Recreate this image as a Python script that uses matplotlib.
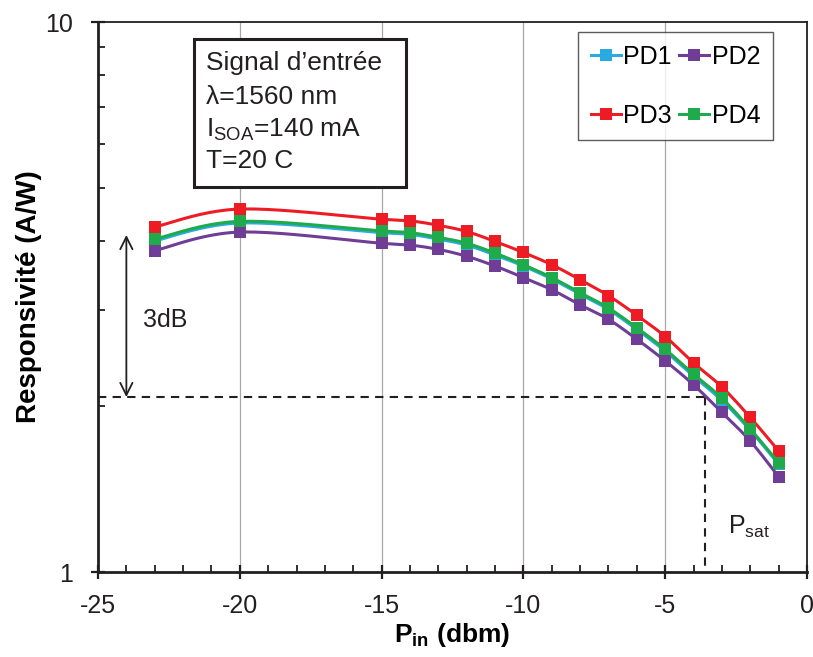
import numpy as np
import matplotlib
matplotlib.use('Agg')
import matplotlib.pyplot as plt
from matplotlib.patches import Rectangle
from matplotlib.ticker import FixedLocator, FixedFormatter, LogLocator, NullFormatter

plt.rcParams['font.family'] = ['Liberation Sans', 'DejaVu Sans']
plt.rcParams['mathtext.fontset'] = 'custom'
plt.rcParams['mathtext.rm'] = 'Liberation Sans'
plt.rcParams['mathtext.it'] = 'Liberation Sans:italic'
plt.rcParams['mathtext.bf'] = 'Liberation Sans:bold'
plt.rcParams['axes.unicode_minus'] = False

# ---------------- data ----------------
p_in = [-23, -20, -15, -14, -13, -12, -11, -10, -9, -8, -7, -6, -5, -4, -3, -2, -1]
pd1 = [4.00, 4.31, 4.14, 4.11, 4.03, 3.93, 3.77, 3.60, 3.41, 3.20, 3.00, 2.76, 2.52, 2.27, 2.05, 1.81, 1.57]
pd2 = [3.84, 4.15, 3.96, 3.93, 3.86, 3.75, 3.60, 3.43, 3.26, 3.06, 2.88, 2.65, 2.42, 2.19, 1.95, 1.73, 1.49]
pd3 = [4.24, 4.57, 4.38, 4.35, 4.27, 4.16, 3.99, 3.81, 3.62, 3.40, 3.18, 2.93, 2.68, 2.40, 2.17, 1.91, 1.66]
pd4 = [4.03, 4.34, 4.17, 4.14, 4.06, 3.96, 3.80, 3.62, 3.43, 3.22, 3.02, 2.78, 2.54, 2.29, 2.07, 1.82, 1.58]
series_names = ['PD1', 'PD2', 'PD3', 'PD4']
series_values = [pd1, pd2, pd3, pd4]
series_colors = ['#29ABE2', '#6F3C96', '#ED1C24', '#1FAA4B']

x_ticks = [-25, -20, -15, -10, -5, 0]
y_ticks = [1, 10]
y_tick_labels = ['1', '10']

ref_level = 2.08        # -3 dB level
psat_x = -3.6           # saturation input power
ref_top = 4.10          # top of 3 dB arrow
arrow_x = -24.0

info_lines = ['Signal d\u2019entr\u00e9e', '\u03bb=1560 nm',
              'I$_{\\mathrm{SOA}}$=140 mA', 'T=20 C']


def smooth_curve(x, y, n=24):
    """Catmull-Rom (Excel-like) smoothing in (x, log y) space."""
    P = np.column_stack([np.asarray(x, float), np.log10(np.asarray(y, float))])
    Pe = np.vstack([P[0], P, P[-1]])
    xs, ys, idx = [], [], []
    t = np.linspace(0, 1, n, endpoint=False)
    for i in range(len(P) - 1):
        p0, p1, p2, p3 = Pe[i], Pe[i + 1], Pe[i + 2], Pe[i + 3]
        b1 = p1 + (p2 - p0) / 6.0
        b2 = p2 - (p3 - p1) / 6.0
        tt = t[:, None]
        seg = ((1 - tt) ** 3) * p1 + 3 * ((1 - tt) ** 2) * tt * b1 + 3 * (1 - tt) * tt ** 2 * b2 + tt ** 3 * p2
        idx.append(len(xs))
        xs.extend(seg[:, 0]); ys.extend(seg[:, 1])
    idx.append(len(xs))
    xs.append(P[-1, 0]); ys.append(P[-1, 1])
    return np.array(xs), 10 ** np.array(ys), idx


fig = plt.figure(figsize=(8.13, 6.57), dpi=100)
ax = fig.add_axes([98 / 813, 85 / 657, 709 / 813, 550 / 657])
ax.set_yscale('log')
ax.set_xlim(-25, 0)
ax.set_ylim(1, 10)

handles = []
for name, vals, col in zip(series_names, series_values, series_colors):
    xs, ys, idx = smooth_curve(p_in, vals)
    h, = ax.plot(xs, ys, color=col, lw=2.2, marker='s', markersize=8,
                 markevery=idx, markeredgewidth=0, label=name, zorder=4)
    handles.append(h)

# grid
ax.grid(True, axis='x', which='major', color='#A8A8A8', lw=0.9, zorder=0)
ax.grid(False, axis='y', which='both')

# dashed reference lines
ax.plot([-25, psat_x], [ref_level, ref_level], color='#231F20', lw=1.5,
        ls=(0, (4, 3)), zorder=3)
ax.plot([psat_x, psat_x], [ref_level, 1], color='#231F20', lw=1.5,
        ls=(0, (4, 3)), zorder=3)

# 3 dB arrow
ax.annotate('', xy=(arrow_x, ref_level), xytext=(arrow_x, ref_top),
            arrowprops=dict(arrowstyle='<->', color='#231F20', lw=1.3,
                            mutation_scale=22, shrinkA=0, shrinkB=0), zorder=3)
ax.text(-23.4, 2.79, '3dB', fontsize=18, color='#231F20', va='baseline', ha='left')
ax.text(-2.77, 1.172, 'P$_{\\mathrm{sat}}$', fontsize=18, color='#231F20',
        va='baseline', ha='left')

# info box
ax.add_patch(Rectangle((0.135, 0.70), 0.299, 0.269, transform=ax.transAxes,
                       facecolor='white', edgecolor='#231F20', lw=2.2, zorder=5))
for line, yb in zip(info_lines, [0.9127, 0.8509, 0.7915, 0.7345]):
    ax.text(0.152, yb, line, transform=ax.transAxes, fontsize=19,
            color='#231F20', va='baseline', ha='left', zorder=6)

# legend (row-wise order PD1 PD2 / PD3 PD4)
order = [0, 2, 1, 3]
leg = ax.legend([handles[i] for i in order], [series_names[i] for i in order],
                ncol=2, loc='upper left', bbox_to_anchor=(0.6775, 0.9818),
                borderaxespad=0, fontsize=18, frameon=True, fancybox=False,
                handlelength=1.2, handletextpad=0.1, columnspacing=0.3,
                labelspacing=1.4, borderpad=0.5, numpoints=1)
leg.get_frame().set_edgecolor('#333333')
leg.get_frame().set_linewidth(1.0)
leg.set_zorder(6)

# axes / ticks
ax.xaxis.set_major_locator(FixedLocator(x_ticks))
ax.xaxis.set_minor_locator(FixedLocator(list(range(-25, 1))))
ax.yaxis.set_major_locator(FixedLocator(y_ticks))
ax.yaxis.set_major_formatter(FixedFormatter(y_tick_labels))
ax.yaxis.set_minor_locator(LogLocator(base=10, subs=np.arange(2, 10)))
ax.yaxis.set_minor_formatter(NullFormatter())

ax.tick_params(axis='x', which='major', direction='inout', length=10, width=1.6,
               labelsize=18, colors='#231F20', pad=11)
ax.tick_params(axis='y', which='major', direction='inout', length=10, width=1.6,
               labelsize=18, colors='#231F20', pad=13)
ax.tick_params(axis='both', which='minor', direction='in', length=5, width=1.3,
               colors='#231F20')

for s in ['left', 'bottom']:
    ax.spines[s].set_linewidth(2.0)
    ax.spines[s].set_color('#231F20')
for s in ['top', 'right']:
    ax.spines[s].set_linewidth(1.3)
    ax.spines[s].set_color('#231F20')

ax.set_ylabel('Responsivit\u00e9 (A/W)', fontsize=20, fontweight='bold', labelpad=2)
ax.set_xlabel('$\\mathbf{P_{in}}$ (dbm)', fontsize=19, fontweight='bold', labelpad=2)

fig.savefig('out.png', dpi=100)
